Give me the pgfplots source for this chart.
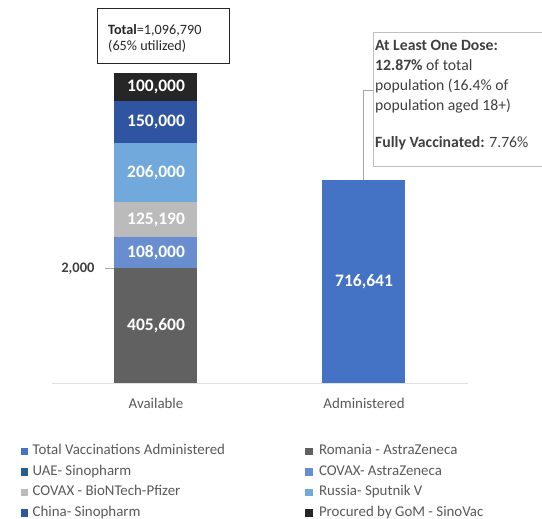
\documentclass[border=0pt]{standalone}
\usepackage{pgfplots}
\pgfplotsset{compat=1.18}
\usepackage{fontspec}
\setmainfont{Carlito}

\definecolor{total}{HTML}{4472C4}
\definecolor{romania}{HTML}{616161}
\definecolor{uae}{HTML}{265E91}
\definecolor{covaxaz}{HTML}{698ED0}
\definecolor{pfizer}{HTML}{BBBBBB}
\definecolor{sputnik}{HTML}{71A9DD}
\definecolor{china}{HTML}{2F55A2}
\definecolor{gom}{HTML}{262626}
\definecolor{labelgray}{HTML}{595959}
\definecolor{notegray}{HTML}{404040}

% square legend marker
\newcommand\sq[1]{\addlegendimage{legend image code/.code={\fill[#1] (0pt,-3.2pt) rectangle (6.5pt,3.2pt);}}}

\pgfplotsset{
  frame/.style={at={(52pt,135.5pt)}, anchor=south west,
    scale only axis, width=416pt, height=311.9pt,
    xmin=-0.5, xmax=1.5, ymin=0, ymax=1100000},
}

\begin{document}
\begin{tikzpicture}[x=1pt,y=1pt]
\useasboundingbox (0,0) rectangle (542,519);
\begin{axis}[
  frame,
  ybar stacked, bar width=83pt,
  axis y line=none, axis x line*=bottom,
  x axis line style={draw=black!12, line width=0.9pt, -},
  xtick={0,1}, xticklabels={Available,Administered},
  major tick length=0pt,
  xticklabel style={anchor=base, yshift=-25.5pt, text=labelgray, font=\fontsize{14.9}{17}\selectfont},
  legend columns=2,
  legend cell align=left,
  legend style={at={(-0.0752,-0.197)}, anchor=north west, draw=none, fill=none,
    inner sep=0pt, outer sep=0pt, row sep=7.4pt, column sep=5pt,
    nodes={inner sep=0pt, text height=10pt, text depth=3pt},
    /tikz/column 2/.style={column sep=80pt},
    /tikz/column 3/.style={column sep=7pt},
    font=\fontsize{14.9}{17}\selectfont, text=labelgray},
]
\sq{total}   \addlegendentry{Total Vaccinations Administered}
\sq{romania} \addlegendentry{Romania - AstraZeneca}
\sq{uae}     \addlegendentry{UAE- Sinopharm}
\sq{covaxaz} \addlegendentry{COVAX- AstraZeneca}
\sq{pfizer}  \addlegendentry{COVAX - BioNTech-Pfizer}
\sq{sputnik} \addlegendentry{Russia- Sputnik V}
\sq{china}   \addlegendentry{China- Sinopharm}
\sq{gom}     \addlegendentry{Procured by GoM - SinoVac}

\addplot[fill=romania, draw=none] coordinates {(0,405600) (1,0)};
\addplot[fill=uae, draw=none]     coordinates {(0,2000) (1,0)};
\addplot[fill=covaxaz, draw=none] coordinates {(0,108000) (1,0)};
\addplot[fill=pfizer, draw=none]  coordinates {(0,125190) (1,0)};
\addplot[fill=sputnik, draw=none] coordinates {(0,206000) (1,0)};
\addplot[fill=china, draw=none]   coordinates {(0,150000) (1,0)};
\addplot[fill=gom, draw=none]     coordinates {(0,100000) (1,0)};
\addplot[fill=total, draw=none]   coordinates {(0,0) (1,716641)};
\end{axis}

% value labels: same frame, not stacked, placed at the middle of each segment
\begin{axis}[frame, hide axis, clip=false,
  point meta=explicit symbolic, nodes near coords,
  every node near coord/.append style={anchor=center, inner sep=0pt,
    text=white, font=\bfseries\fontsize{17.5}{20}\selectfont}]
\addplot[draw=none] coordinates {
  (0,202800)[405,600] (0,461600)[108,000] (0,578195)[125,190]
  (0,743790)[206,000] (0,921790)[150,000] (0,1046790)[100,000]
  (1,358320)[716,641]};
\addplot[draw=none, every node near coord/.style={anchor=east, xshift=-58pt, yshift=-1pt,
    text=notegray, font=\bfseries\fontsize{14.5}{17}\selectfont}]
  coordinates {(0,407600)[2,000]};
\end{axis}

% leader for the 2,000 label
\draw[black!35, line width=0.7pt] (104.5,250.8) -- (113.5,250.8);

% Total annotation
\draw[black!85, line width=0.8pt] (97,456) rectangle (229,511);
\node[anchor=north west, inner sep=0pt, align=left, text=black!85,
  font=\fontsize{14.2}{15.5}\selectfont] at (108,494.5)
  {\textbf{Total}=1,096,790\\(65\% utilized)};

% callout for administered
\draw[black!35, line width=0.7pt] (363.5,338.7) -- (363.5,429) -- (373,429);
\draw[black!25, fill=white, line width=0.8pt] (373,353) rectangle (560,487);
\node[anchor=north west, inner sep=0pt, align=left, text=notegray,
  font=\fontsize{15.7}{20}\selectfont] at (375,478.5)
  {\textbf{At Least One Dose:}\\\textbf{12.87\%} of total\\population (16.4\% of\\population aged 18+)\\[17pt]\textbf{Fully Vaccinated:} 7.76\%};
\end{tikzpicture}
\end{document}
